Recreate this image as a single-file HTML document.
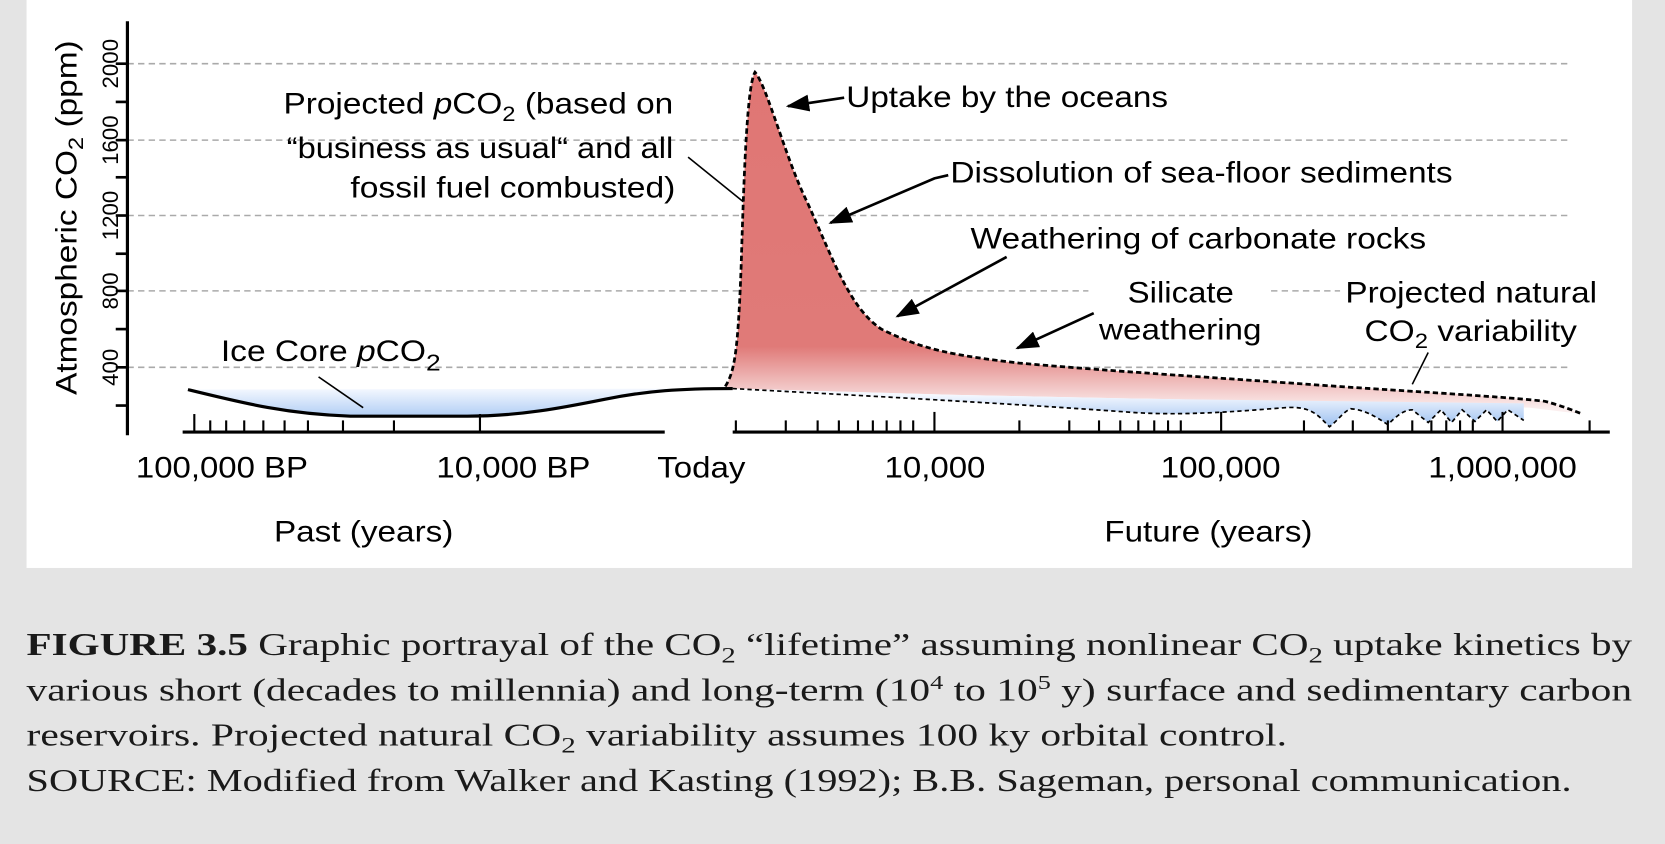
<!DOCTYPE html>
<html><head><meta charset="utf-8"><style>
html,body{margin:0;padding:0;background:#e4e4e4;}
svg{display:block;}
text{font-family:"Liberation Sans",Arial,sans-serif;fill:#000;}
.cap{font-family:"Liberation Serif","Times New Roman",serif;font-size:30px;fill:#1a1a1a;}
</style></head><body>
<svg width="1665" height="844" viewBox="0 0 1568 795" preserveAspectRatio="none" xmlns="http://www.w3.org/2000/svg">
<defs>
<linearGradient id="rg" x1="0" y1="60" x2="0" y2="385" gradientUnits="userSpaceOnUse">
<stop offset="0" stop-color="#e07674"/>
<stop offset="0.82" stop-color="#e07a78"/>
<stop offset="1" stop-color="#fbeeee"/>
</linearGradient>
<linearGradient id="bg1" x1="0" y1="366" x2="0" y2="395" gradientUnits="userSpaceOnUse">
<stop offset="0" stop-color="#f4f8ff"/>
<stop offset="1" stop-color="#a9c9f3"/>
</linearGradient>
<linearGradient id="bg2" x1="0" y1="372" x2="0" y2="402" gradientUnits="userSpaceOnUse">
<stop offset="0" stop-color="#f4f8ff"/>
<stop offset="1" stop-color="#9cc0f0"/>
</linearGradient>
<marker id="ah2" markerWidth="22" markerHeight="16" refX="20" refY="8" orient="auto" markerUnits="userSpaceOnUse" viewBox="0 0 22 16">
<path d="M0,0 L22,8 L0,16 z" fill="#000"/>
</marker>
</defs>
<rect x="0" y="0" width="1568" height="795" fill="#e4e4e4"/>
<rect x="25" y="0" width="1512" height="535" fill="#fff"/>

<g stroke="#aaa" stroke-width="1.5" stroke-dasharray="6,4">
<line x1="120" y1="60" x2="1478" y2="60"/>
<line x1="120" y1="132" x2="1478" y2="132"/>
<line x1="120" y1="203" x2="1478" y2="203"/>
<line x1="120" y1="274" x2="1025" y2="274"/>
<line x1="1197" y1="274" x2="1262" y2="274"/>
<line x1="120" y1="346" x2="1478" y2="346"/>
</g>

<path d="M683,364 C692,350 695,330 698,250 C701,150 704,80 711,68 C722,80 740,150 760,190 C785,245 800,290 830,310 C870,330 900,335 960,342 C1050,350 1150,356 1260,364 C1350,370 1420,374 1455,378 C1470,382 1480,386 1490,390 L1440,384 L1300,380 L1100,376 L900,372 L690,366 Z" fill="url(#rg)"/>
<path d="M690,366 C800,372 950,380 1060,388 C1110,392 1160,388 1210,384 C1225,383 1235,385 1245,395 L1252,402 C1260,396 1265,388 1272,385 C1285,386 1295,392 1307,400 C1315,392 1322,386 1330,386 L1345,398 L1357,386 L1367,398 L1377,386 L1389,397 L1400,386 L1410,397 L1420,386 L1435,396 L1435,380 L1100,376 L900,372 Z" fill="url(#bg2)"/>
<path d="M177,367 C230,380 270,390 330,392 L440,392 C490,392 530,384 570,376 C610,368 640,366 690,366 Z" fill="url(#bg1)"/>

<path d="M683,364 C692,350 695,330 698,250 C701,150 704,80 711,68 C722,80 740,150 760,190 C785,245 800,290 830,310 C870,330 900,335 960,342 C1050,350 1150,356 1260,364 C1350,370 1420,374 1455,378 C1470,382 1480,386 1490,390" fill="none" stroke="#000" stroke-width="2.6" stroke-dasharray="5,3"/>
<path d="M690,366 C800,372 950,380 1060,388 C1110,392 1160,388 1210,384 C1225,383 1235,385 1245,395 L1252,402 C1260,396 1265,388 1272,385 C1285,386 1295,392 1307,400 C1315,392 1322,386 1330,386 L1345,398 L1357,386 L1367,398 L1377,386 L1389,397 L1400,386 L1410,397 L1420,386 L1435,396" fill="none" stroke="#000" stroke-width="1.6" stroke-dasharray="4,3"/>
<path d="M177,367 C230,380 270,390 330,392 L440,392 C490,392 530,384 570,376 C610,368 640,366 690,366" fill="none" stroke="#000" stroke-width="3"/>

<line x1="120" y1="20" x2="120" y2="410" stroke="#000" stroke-width="3"/>
<g stroke="#000" stroke-width="2.5">
<line x1="109" y1="60" x2="120" y2="60"/><line x1="109" y1="96" x2="120" y2="96"/>
<line x1="109" y1="132" x2="120" y2="132"/><line x1="109" y1="167" x2="120" y2="167"/>
<line x1="109" y1="203" x2="120" y2="203"/><line x1="109" y1="239" x2="120" y2="239"/>
<line x1="109" y1="274" x2="120" y2="274"/><line x1="109" y1="310" x2="120" y2="310"/>
<line x1="109" y1="346" x2="120" y2="346"/><line x1="109" y1="382" x2="120" y2="382"/>
</g>
<g font-size="21" text-anchor="middle">
<text transform="translate(111,60) rotate(-90)">2000</text>
<text transform="translate(111,132) rotate(-90)">1600</text>
<text transform="translate(111,203) rotate(-90)">1200</text>
<text transform="translate(111,274) rotate(-90)">800</text>
<text transform="translate(111,346) rotate(-90)">400</text>
</g>
<text transform="translate(72,205) rotate(-90)" font-size="28" text-anchor="middle" textLength="334" lengthAdjust="spacingAndGlyphs">Atmospheric CO<tspan font-size="20" dy="6">2</tspan><tspan dy="-6"> (ppm)</tspan></text>

<g stroke="#000" stroke-width="3">
<line x1="172" y1="407" x2="626" y2="407"/>
<line x1="690" y1="407" x2="1516" y2="407"/>
</g>
<g stroke="#000" stroke-width="2">
<line x1="183" y1="390" x2="183" y2="407"/><line x1="452" y1="390" x2="452" y2="407"/>
<line x1="198" y1="396" x2="198" y2="407"/><line x1="213" y1="396" x2="213" y2="407"/>
<line x1="230" y1="396" x2="230" y2="407"/><line x1="248" y1="396" x2="248" y2="407"/>
<line x1="268" y1="396" x2="268" y2="407"/><line x1="290" y1="396" x2="290" y2="407"/>
<line x1="323" y1="396" x2="323" y2="407"/><line x1="371" y1="396" x2="371" y2="407"/>
<line x1="693" y1="396" x2="693" y2="407"/>
<line x1="740" y1="396" x2="740" y2="407"/><line x1="770" y1="396" x2="770" y2="407"/>
<line x1="790" y1="396" x2="790" y2="407"/><line x1="808" y1="396" x2="808" y2="407"/>
<line x1="822" y1="396" x2="822" y2="407"/><line x1="835" y1="396" x2="835" y2="407"/>
<line x1="848" y1="396" x2="848" y2="407"/><line x1="860" y1="396" x2="860" y2="407"/>
<line x1="880" y1="388" x2="880" y2="407"/>
<line x1="960" y1="396" x2="960" y2="407"/><line x1="1007" y1="396" x2="1007" y2="407"/>
<line x1="1035" y1="396" x2="1035" y2="407"/><line x1="1055" y1="396" x2="1055" y2="407"/>
<line x1="1072" y1="396" x2="1072" y2="407"/><line x1="1087" y1="396" x2="1087" y2="407"/>
<line x1="1100" y1="396" x2="1100" y2="407"/><line x1="1112" y1="396" x2="1112" y2="407"/>
<line x1="1150" y1="388" x2="1150" y2="407"/>
<line x1="1228" y1="396" x2="1228" y2="407"/><line x1="1274" y1="396" x2="1274" y2="407"/>
<line x1="1307" y1="396" x2="1307" y2="407"/><line x1="1330" y1="396" x2="1330" y2="407"/>
<line x1="1348" y1="396" x2="1348" y2="407"/><line x1="1362" y1="396" x2="1362" y2="407"/>
<line x1="1375" y1="396" x2="1375" y2="407"/><line x1="1387" y1="396" x2="1387" y2="407"/>
<line x1="1415" y1="388" x2="1415" y2="407"/><line x1="1497" y1="396" x2="1497" y2="407"/>
</g>
<g font-size="28">
<text x="128" y="450" textLength="162" lengthAdjust="spacingAndGlyphs">100,000 BP</text>
<text x="411" y="450" textLength="145" lengthAdjust="spacingAndGlyphs">10,000 BP</text>
<text x="619" y="450" textLength="83" lengthAdjust="spacingAndGlyphs">Today</text>
<text x="833" y="450" textLength="95" lengthAdjust="spacingAndGlyphs">10,000</text>
<text x="1093" y="450" textLength="113" lengthAdjust="spacingAndGlyphs">100,000</text>
<text x="1345" y="450" textLength="140" lengthAdjust="spacingAndGlyphs">1,000,000</text>
<text x="258" y="510" textLength="169" lengthAdjust="spacingAndGlyphs">Past (years)</text>
<text x="1040" y="510" textLength="196" lengthAdjust="spacingAndGlyphs">Future (years)</text>

<text x="267" y="107" textLength="367" lengthAdjust="spacingAndGlyphs">Projected <tspan font-style="italic">p</tspan>CO<tspan font-size="20" dy="7">2</tspan><tspan dy="-7"> (based on</tspan></text>
<text x="270" y="149" textLength="364" lengthAdjust="spacingAndGlyphs">“business as usual“ and all</text>
<text x="330" y="186" textLength="306" lengthAdjust="spacingAndGlyphs">fossil fuel combusted)</text>
<text x="797" y="101" textLength="303" lengthAdjust="spacingAndGlyphs">Uptake by the oceans</text>
<text x="895" y="172" textLength="473" lengthAdjust="spacingAndGlyphs">Dissolution of sea-floor sediments</text>
<text x="914" y="234" textLength="429" lengthAdjust="spacingAndGlyphs">Weathering of carbonate rocks</text>
<text x="1062" y="285" textLength="100" lengthAdjust="spacingAndGlyphs">Silicate</text>
<text x="1035" y="320" textLength="153" lengthAdjust="spacingAndGlyphs">weathering</text>
<text x="1267" y="285" textLength="237" lengthAdjust="spacingAndGlyphs">Projected natural</text>
<text x="1285" y="321" textLength="200" lengthAdjust="spacingAndGlyphs">CO<tspan font-size="20" dy="7">2</tspan><tspan dy="-7"> variability</tspan></text>
<text x="208" y="340" textLength="207" lengthAdjust="spacingAndGlyphs">Ice Core <tspan font-style="italic">p</tspan>CO<tspan font-size="22" dy="9">2</tspan></text>
</g>

<g stroke="#000" stroke-width="1.5" fill="none">
<line x1="648" y1="148" x2="700" y2="190"/>
<line x1="300" y1="355" x2="342" y2="384"/>
<line x1="1345" y1="332" x2="1330" y2="362"/>
</g>
<g stroke="#000" stroke-width="2.5" fill="none">
<line x1="795" y1="92" x2="742" y2="100" marker-end="url(#ah2)"/>
<polyline points="893,165 880,168 782,210" marker-end="url(#ah2)"/>
<line x1="948" y1="242" x2="845" y2="298" marker-end="url(#ah2)"/>
<line x1="1030" y1="295" x2="958" y2="328" marker-end="url(#ah2)"/>
</g>

<text class="cap" x="25" y="617" textLength="1512" lengthAdjust="spacingAndGlyphs"><tspan font-weight="bold">FIGURE 3.5</tspan>  Graphic portrayal of the CO<tspan font-size="21" dy="7">2</tspan><tspan dy="-7"> “lifetime” assuming nonlinear CO</tspan><tspan font-size="21" dy="7">2</tspan><tspan dy="-7"> uptake kinetics by</tspan></text>
<text class="cap" x="25" y="660" textLength="1512" lengthAdjust="spacingAndGlyphs">various short (decades to millennia) and long-term (10<tspan font-size="19" dy="-11">4</tspan><tspan dy="11"> to 10</tspan><tspan font-size="19" dy="-11">5</tspan><tspan dy="11"> y) surface and sedimentary carbon</tspan></text>
<text class="cap" x="25" y="702" textLength="1187" lengthAdjust="spacingAndGlyphs">reservoirs. Projected natural CO<tspan font-size="21" dy="7">2</tspan><tspan dy="-7"> variability assumes 100 ky orbital control.</tspan></text>
<text class="cap" x="25" y="745" textLength="1455" lengthAdjust="spacingAndGlyphs">SOURCE: Modified from Walker and Kasting (1992); B.B. Sageman, personal communication.</text>
</svg>
</body></html>
